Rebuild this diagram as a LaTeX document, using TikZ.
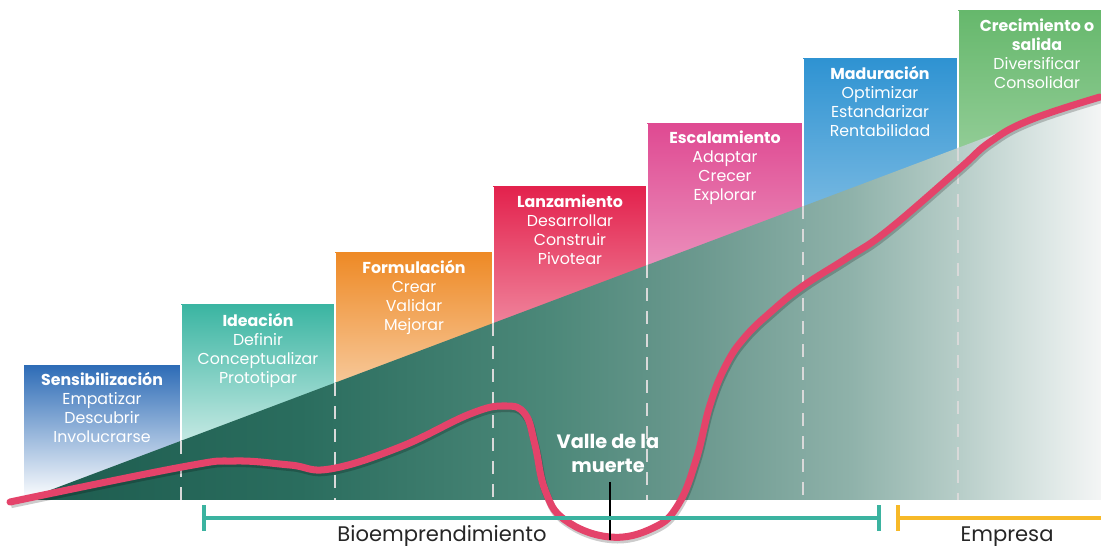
\documentclass[tikz,border=0pt]{standalone}
\usepackage{fontspec}
\setmainfont{Poppins}
\usetikzlibrary{arrows.meta}

\definecolor{sensblue}{HTML}{2F6DB7}
\definecolor{ideateal}{HTML}{3BB5A2}
\definecolor{formorange}{HTML}{EE8A26}
\definecolor{lanzred}{HTML}{E3224D}
\definecolor{escpink}{HTML}{DF4A92}
\definecolor{madblue}{HTML}{2F93D2}
\definecolor{crecgreen}{HTML}{66B86C}
\definecolor{curvered}{HTML}{E4436A}
\definecolor{bioteal}{HTML}{3BB3A0}
\definecolor{empyellow}{HTML}{F7B928}
\definecolor{vd0}{HTML}{1D5B4E}
\definecolor{vd1}{HTML}{2A6D5E}
\definecolor{vd2}{HTML}{4C8879}
\definecolor{vd3}{HTML}{6C998F}
\definecolor{vd4}{HTML}{8FB2AA}
\definecolor{vd5}{HTML}{B8CEC9}
\definecolor{vd6}{HTML}{DDE7E5}
\definecolor{vd7}{HTML}{F4F5F5}

\pgfdeclarehorizontalshading{valley}{100bp}{color(0bp)=(vd0); color(25bp)=(vd0); color(37.8bp)=(vd1); color(49.4bp)=(vd2); color(56.4bp)=(vd3); color(63.4bp)=(vd4); color(68.5bp)=(vd5); color(72.5bp)=(vd6); color(75bp)=(vd7); color(100bp)=(vd7)}

\tikzset{
  stagebox/.style={bottom color=white},
  stagetext/.style={text=white, align=center, anchor=base, inner sep=0pt, font=\fontsize{9}{10.9}\selectfont},
  stagesep/.style={draw=white!85!black, line width=1.6pt, dash pattern=on 7.4pt off 5.7pt},
  bracket/.style={line width=2.3pt},
}

\begin{document}
\begin{tikzpicture}[x=0.02cm, y=-0.02cm, line join=round]

\useasboundingbox (0,0) rectangle (1101,546);
\clip (0,0) rectangle (1101,546);

% stages
\shade[stagebox, top color=sensblue] (24,366) rectangle (181,500);
\shade[stagebox, top color=ideateal] (181,305) rectangle (335,500);
\shade[stagebox, top color=formorange] (335,253) rectangle (493,500);
\shade[stagebox, top color=lanzred] (493,187) rectangle (647,500);
\shade[stagebox, top color=escpink] (647,124) rectangle (803,500);
\shade[stagebox, top color=madblue] (803,59) rectangle (958,500);
\shade[stagebox, top color=crecgreen] (958,11) rectangle (1120,500);
\draw[white, line width=0.6pt] (181,305) -- (181,441) (335,253) -- (335,383) (493,187) -- (493,323)
  (647,124) -- (647,265) (803,59) -- (803,206) (958,11) -- (958,148);

% valley
\shade[shading=valley] (24,500) -- (1101,94) -- (1101,500) -- cycle;

\draw[stagesep] (181,441) -- (181,500);
\draw[stagesep] (335,383) -- (335,500);
\draw[stagesep] (493,323) -- (493,500);
\draw[stagesep] (647,265) -- (647,500);
\draw[stagesep] (803,206) -- (803,500);
\draw[stagesep] (958,148) -- (958,500);

% curve
\def\curvepts{(10,502) (182,467) (235,461) (290,465) (330,469) (400,447) (470,414) (505,406) (525,414) (535,445) (545,490) (565,520) (610,537) (653,528) (678,505) (696,460) (710,405) (726,365) (745,337) (772,311) (803,286) (847,258) (887,231) (958,170) (990,142) (1030,120) (1100,97)}
\draw[black, opacity=0.2, line width=4.2pt, shift={(1,2.5)}] plot[smooth, tension=0.7] coordinates {\curvepts};
\draw[curvered, line width=4pt, line cap=round] plot[smooth, tension=0.7] coordinates {\curvepts};

\node (sens) at (102,442.5) [stagetext] {\textbf{Sensibilización}\\Empatizar\\Descubrir\\Involucrarse};
\node (idea) at (258,383.5) [stagetext] {\textbf{Ideación}\\Definir\\Conceptualizar\\Prototipar};
\node (form) at (414,330.5) [stagetext] {\textbf{Formulación}\\Crear\\Validar\\Mejorar};
\node (lanz) at (570,264.5) [stagetext] {\textbf{Lanzamiento}\\Desarrollar\\Construir\\Pivotear};
\node (esca) at (725,200.5) [stagetext] {\textbf{Escalamiento}\\Adaptar\\Crecer\\Explorar};
\node (madu) at (880,136.5) [stagetext] {\textbf{Maduración}\\Optimizar\\Estandarizar\\Rentabilidad};
\node (crec) at (1037,88.5) [stagetext] {\textbf{Crecimiento o}\\\textbf{salida}\\Diversificar\\Consolidar};

\node (valle) at (608,472.5) [anchor=base, align=center, text=white, inner sep=0pt, font=\bfseries\fontsize{11}{13.6}\selectfont] {Valle de la\\muerte};
\coordinate (vallefondo) at (610,540);
\draw[line width=1.1pt] ([yshift=-5pt]valle.south -| vallefondo) -- (vallefondo);

% brackets
\coordinate (bioizq) at (202,518);
\coordinate (bioder) at (881,518);
\draw[bracket, bioteal, {Bar[width=14.7pt]}-{Bar[width=14.7pt]}] (bioizq) -- (bioder);
\coordinate (empizq) at (896,518);
\coordinate (empder) at (1101,518);
\draw[bracket, empyellow, {Bar[width=14.7pt]}-] (empizq) -- (empder);

\node (bio) at (442,541) [anchor=base, inner sep=0pt, text=black!85, font=\fontsize{12}{13}\selectfont] {Bioemprendimiento};
\node (empresa) at (1007,541) [anchor=base, inner sep=0pt, text=black!85, font=\fontsize{12}{13}\selectfont] {Empresa};

\end{tikzpicture}
\end{document}
